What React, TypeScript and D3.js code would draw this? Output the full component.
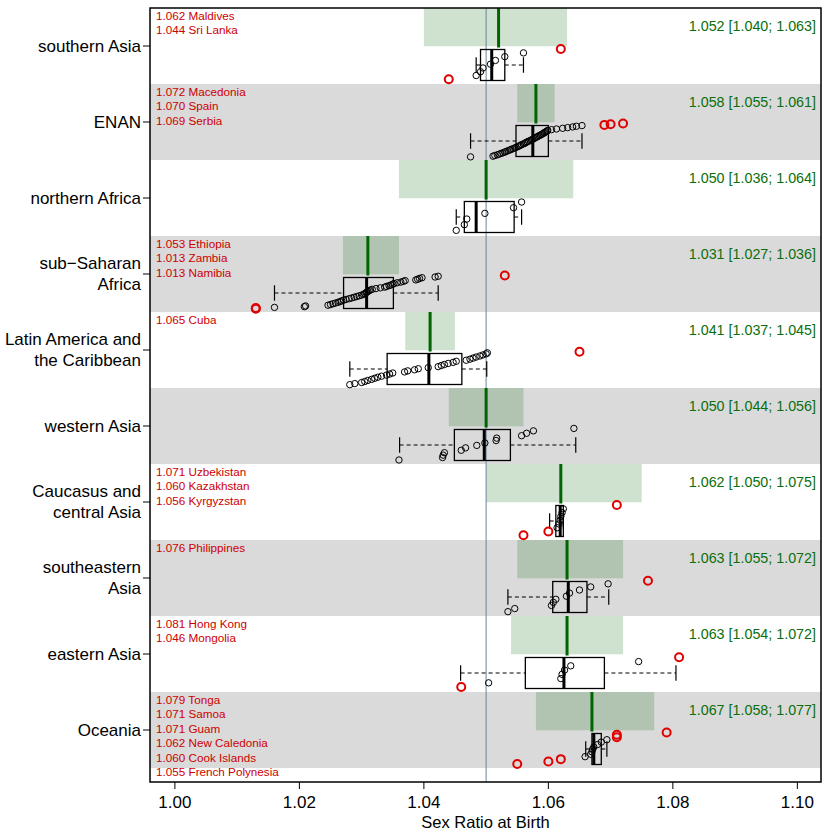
import * as d3 from 'd3'

// regions, top to bottom
const groupLabels = [
  ['southern Asia'],
  ['ENAN'],
  ['northern Africa'],
  ['sub−Saharan', 'Africa'],
  ['Latin America and', 'the Caribbean'],
  ['western Asia'],
  ['Caucasus and', 'central Asia'],
  ['southeastern', 'Asia'],
  ['eastern Asia'],
  ['Oceania'],
]

// regional estimate and interval
const estimates = [1.052, 1.058, 1.05, 1.031, 1.041, 1.05, 1.062, 1.063, 1.063, 1.067]
const ciLow = [1.04, 1.055, 1.036, 1.027, 1.037, 1.044, 1.05, 1.055, 1.054, 1.058]
const ciHigh = [1.063, 1.061, 1.064, 1.036, 1.045, 1.056, 1.075, 1.072, 1.072, 1.077]

// box stats: lower whisker, q1, median, q3, upper whisker
const whiskerLow = [1.0484, 1.0475, 1.0452, 1.016, 1.0281, 1.0361, 1.0602, 1.0535, 1.0459, 1.066]
const q1 = [1.0491, 1.0548, 1.0465, 1.0271, 1.0341, 1.0449, 1.0612, 1.0607, 1.0563, 1.067]
const medians = [1.0509, 1.0575, 1.0484, 1.0308, 1.0408, 1.0497, 1.0619, 1.0632, 1.0625, 1.0673]
const q3 = [1.053, 1.06, 1.0545, 1.0351, 1.0461, 1.0539, 1.0624, 1.0662, 1.069, 1.0685]
const whiskerHigh = [1.056, 1.0654, 1.0557, 1.0423, 1.0501, 1.0644, 1.0624, 1.0697, 1.0805, 1.0694]

// country values (black circles)
const countryValues = [
  [1.0484, 1.0491, 1.0495, 1.0507, 1.0515, 1.053, 1.056],
  [
    1.0475, 1.0511, 1.0514, 1.0518, 1.0521, 1.0524, 1.0527, 1.053, 1.0532, 1.0535, 1.0538,
    1.054, 1.0543, 1.0546, 1.0548, 1.0551, 1.0553, 1.0555, 1.0557, 1.056, 1.0562, 1.0564,
    1.0566, 1.0568, 1.0571, 1.0573, 1.0575, 1.0577, 1.0579, 1.0581, 1.0583, 1.0585, 1.0587,
    1.0589, 1.0591, 1.0593, 1.0594, 1.0596, 1.0598, 1.0599, 1.0605, 1.0613, 1.0623, 1.0631,
    1.0639, 1.0645, 1.0654,
  ],
  [1.0452, 1.0465, 1.0469, 1.0498, 1.0544, 1.0557],
  [
    1.016, 1.0208, 1.021, 1.0246, 1.025, 1.0254, 1.0258, 1.0262, 1.0265, 1.0268, 1.0271,
    1.0275, 1.028, 1.0284, 1.0288, 1.0292, 1.0296, 1.03, 1.0303, 1.0305, 1.0307, 1.0308,
    1.031, 1.0312, 1.0314, 1.0317, 1.0323, 1.033, 1.0337, 1.034, 1.0344, 1.0347, 1.035,
    1.0352, 1.0357, 1.0363, 1.0367, 1.037, 1.0387, 1.039, 1.0393, 1.0397, 1.0418, 1.0423,
  ],
  [
    1.0281, 1.0289, 1.03, 1.0305, 1.031, 1.0316, 1.0321, 1.0326, 1.0332, 1.034, 1.0345,
    1.035, 1.0369, 1.0374, 1.0385, 1.0391, 1.0407, 1.0423, 1.0428, 1.0433, 1.0439, 1.0447,
    1.0452, 1.0468, 1.0474, 1.0479, 1.0484, 1.049, 1.0495, 1.05, 1.0502,
  ],
  [1.036, 1.043, 1.0431, 1.0433, 1.046, 1.0467, 1.0485, 1.0498, 1.0516, 1.0517, 1.0557, 1.0565, 1.0576, 1.0641],
  [1.0614, 1.0617, 1.0619, 1.062, 1.0622, 1.0624],
  [1.0535, 1.0546, 1.0605, 1.0608, 1.0612, 1.0629, 1.0634, 1.065, 1.0668, 1.0696],
  [1.0504, 1.062, 1.0622, 1.0626, 1.0636, 1.0745],
  [1.0659, 1.0668, 1.067, 1.0671, 1.0673, 1.0679, 1.0685, 1.0694],
]

// labelled outliers (red)
const outlierNames = [
  ['Maldives', 'Sri Lanka'],
  ['Macedonia', 'Spain', 'Serbia'],
  [],
  ['Ethiopia', 'Zambia', 'Namibia'],
  ['Cuba'],
  [],
  ['Uzbekistan', 'Kazakhstan', 'Kyrgyzstan'],
  ['Philippines'],
  ['Hong Kong', 'Mongolia'],
  ['Tonga', 'Samoa', 'Guam', 'New Caledonia', 'Cook Islands', 'French Polynesia'],
]
const outlierValues = [
  [1.062, 1.044],
  [1.072, 1.07, 1.069],
  [],
  [1.053, 1.013, 1.013],
  [1.065],
  [],
  [1.071, 1.06, 1.056],
  [1.076],
  [1.081, 1.046],
  [1.079, 1.071, 1.071, 1.062, 1.06, 1.055],
]

const xTicks = [1.0, 1.02, 1.04, 1.06, 1.08, 1.1]
const refValue = 1.05
const xTitle = 'Sex Ratio at Birth'

const FONT = '"Liberation Sans", Arial, Helvetica, sans-serif'
const GREEN = '#006400'

export default function App() {
  const left = 150
  const right = 821
  const top = 8
  const bottom = 782
  const bandH = 76

  const x = d3.scaleLinear().domain([0.996, 1.1038]).range([left, right])
  const y = d3
    .scaleBand<number>()
    .domain(d3.range(groupLabels.length))
    .range([top, top + bandH * groupLabels.length])

  const groups = groupLabels.map((_, i) => {
    const pts = [
      ...countryValues[i].map((v) => ({ v, red: false })),
      ...outlierValues[i].map((v) => ({ v, red: true })),
    ].sort((a, b) => a.v - b.v)
    const n = pts.length
    const t = y(i)!
    return pts.map((p, r) => ({ ...p, cy: t + 56.2 + 34 * (0.5 - (r + 0.5) / n) }))
  })

  return (
    <svg width={830} height={830} style={{ position: 'absolute', left: 0, top: 0 }} fontFamily={FONT}>
      <rect x={0} y={0} width={830} height={830} fill="#fff" />
      {groupLabels.map((_, i) =>
        i % 2 === 1 ? (
          <rect key={i} x={left} y={y(i)} width={right - left} height={y.bandwidth()} fill="#dadada" />
        ) : null
      )}
      {estimates.map((_, i) => (
        <rect
          key={i}
          x={x(ciLow[i])}
          y={y(i)}
          width={x(ciHigh[i]) - x(ciLow[i])}
          height={38.3}
          fill={GREEN}
          fillOpacity={0.19}
        />
      ))}
      <line x1={x(refValue)} x2={x(refValue)} y1={top} y2={bottom} stroke="#6b83a0" strokeWidth={1} />
      {estimates.map((e, i) => (
        <line key={i} x1={x(e)} x2={x(e)} y1={y(i)} y2={y(i)! + 39.5} stroke={GREEN} strokeWidth={3} />
      ))}
      {medians.map((m, i) => {
        const t = y(i)!
        const b0 = t + 41.5
        const b1 = t + 72.5
        const mid = t + 57
        return (
          <g key={i} stroke="#000" fill="none">
            <line x1={x(whiskerLow[i])} x2={x(q1[i])} y1={mid} y2={mid} strokeDasharray="4,3" strokeWidth={1.1} />
            <line x1={x(q3[i])} x2={x(whiskerHigh[i])} y1={mid} y2={mid} strokeDasharray="4,3" strokeWidth={1.1} />
            <line x1={x(whiskerLow[i])} x2={x(whiskerLow[i])} y1={mid - 7.75} y2={mid + 7.75} strokeWidth={1.2} />
            <line x1={x(whiskerHigh[i])} x2={x(whiskerHigh[i])} y1={mid - 7.75} y2={mid + 7.75} strokeWidth={1.2} />
            <rect x={x(q1[i])} y={b0} width={x(q3[i]) - x(q1[i])} height={b1 - b0} strokeWidth={1.3} />
            <line x1={x(m)} x2={x(m)} y1={b0} y2={b1} strokeWidth={3} />
          </g>
        )
      })}
      {groups.map((pts, i) => (
        <g key={i}>
          {pts
            .filter((p) => !p.red)
            .map((p, j) => (
              <circle key={j} cx={x(p.v)} cy={p.cy} r={3.2} fill="none" stroke="#000" strokeWidth={1} />
            ))}
          {pts
            .filter((p) => p.red)
            .map((p, j) => (
              <circle key={'r' + j} cx={x(p.v)} cy={p.cy} r={4} fill="none" stroke="#e00000" strokeWidth={2} />
            ))}
        </g>
      ))}
      {outlierNames.map((names, i) =>
        names.map((nm, j) => (
          <text
            key={i + '-' + j}
            x={156}
            y={y(i)! + 7.3 + 14.5 * j}
            dominantBaseline="central"
            fontSize={11.7}
            fill="#cd0000"
          >
            {outlierValues[i][j].toFixed(3) + ' ' + nm}
          </text>
        ))
      )}
      {estimates.map((e, i) => (
        <text
          key={i}
          x={816}
          y={y(i)! + 18.3}
          textAnchor="end"
          dominantBaseline="central"
          fontSize={14.3}
          fill="#0c6e0c"
        >
          {`${e.toFixed(3)} [${ciLow[i].toFixed(3)}; ${ciHigh[i].toFixed(3)}]`}
        </text>
      ))}
      <rect x={left} y={top} width={right - left} height={bottom - top} fill="none" stroke="#000" strokeWidth={1.5} />
      {groupLabels.map((lines, i) => {
        const c = y(i)! + y.bandwidth() / 2
        return (
          <g key={i}>
            <line x1={left - 7} x2={left} y1={c} y2={c} stroke="#000" />
            {lines.map((ln, j) => (
              <text
                key={j}
                x={left - 9}
                y={c + (j - (lines.length - 1) / 2) * 20.5}
                textAnchor="end"
                dominantBaseline="central"
                fontSize={17}
                fill="#000"
              >
                {ln}
              </text>
            ))}
          </g>
        )
      })}
      {xTicks.map((t) => (
        <g key={t}>
          <line x1={x(t)} x2={x(t)} y1={bottom} y2={bottom + 7} stroke="#000" />
          <text x={x(t)} y={bottom + 20.5} textAnchor="middle" dominantBaseline="central" fontSize={17} fill="#000">
            {d3.format('.2f')(t)}
          </text>
        </g>
      ))}
      <text x={(left + right) / 2} y={bottom + 40} textAnchor="middle" dominantBaseline="central" fontSize={16.5} fill="#000">
        {xTitle}
      </text>
    </svg>
  )
}
